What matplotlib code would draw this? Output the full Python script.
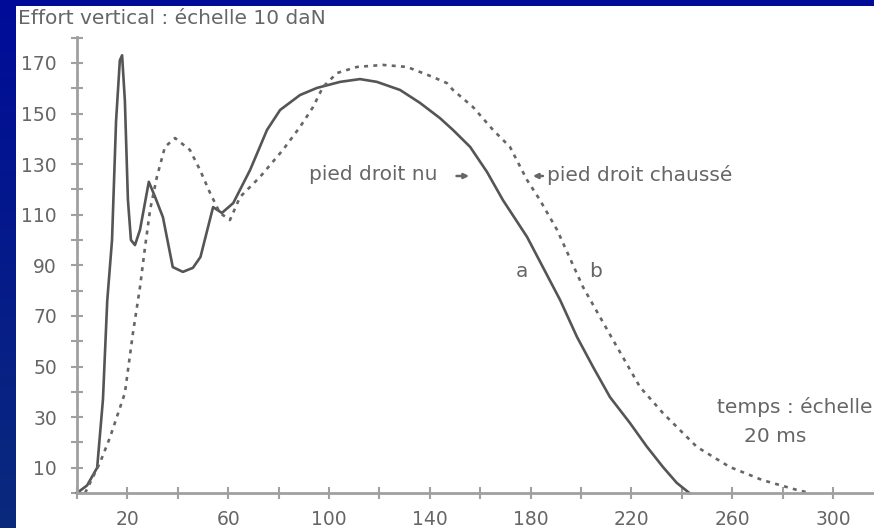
import numpy as np
import matplotlib
matplotlib.use("Agg")
import matplotlib.pyplot as plt
from matplotlib.ticker import MultipleLocator, FixedLocator
from matplotlib.colors import LinearSegmentedColormap

# Courbe a : pied droit nu (trait plein)
temps_a = [0, 4, 8, 10.3, 12, 13.9, 15.5, 17, 17.9, 19, 20.2, 21.4, 23, 25, 28.5, 31, 34.1, 38, 42, 46,
           49, 54, 57.5, 62, 68.7, 75.4, 80.6, 88.5, 95.2, 104.4, 112.3, 119, 128.2, 136.1, 144, 149.2,
           156, 162.7, 169, 178.6, 191.7, 198.4, 204.8, 211.5, 219.4, 226, 232.5, 238, 243]
effort_a = [0, 3, 10, 37, 76, 100, 147, 171, 173, 155, 116, 100, 98, 104, 123, 117, 109, 89.3, 87.4, 89,
            93.3, 113, 110.7, 114.6, 127.7, 143.5, 151.4, 157.3, 160.1, 162.5, 163.6, 162.5, 159.3, 154.2,
            148.2, 143.5, 136.8, 126.9, 115.8, 101.2, 76.3, 61.7, 49.8, 37.9, 27.7, 18.5, 10.3, 4, 0]

# Courbe b : pied droit chaussé (tirets)
temps_b = [3.2, 9.1, 13.1, 19, 22.2, 25, 27, 29, 31.7, 34.9, 38.9, 44.8, 48.8, 52.8, 56.7, 60.7, 64.7,
           72.6, 81.7, 88.5, 93.7, 97.6, 103.2, 111.1, 121.4, 131, 141.3, 146.8, 149.2, 157.1, 165.1,
           171.8, 178.6, 183.7, 190.5, 200.8, 212.7, 223.4, 232.5, 246, 259, 272, 285.7, 290.9]
effort_b = [0, 11.9, 22, 39.5, 63.2, 81.4, 97.2, 111.9, 124.9, 136.8, 140.3, 135.6, 127.7, 118.6, 110.7,
            107.9, 117, 124.9, 135.6, 144.7, 152.6, 160.5, 166, 168.4, 169.2, 168.4, 164.4, 162, 159.3,
            152.6, 143.5, 136.8, 123.7, 115.8, 104, 81.4, 60.5, 41.9, 31.6, 18.2, 10.3, 5.1, 1.2, 0]

y_ticks_labels = [10, 30, 50, 70, 90, 110, 130, 150, 170]
x_ticks_labels = [20, 60, 100, 140, 180, 220, 260, 300]

FONT = ["DejaVu Sans"]
TXT = "#666666"
FS = 14.5
FS_TICK = 13.5

W, H = 874, 528
fig = plt.figure(figsize=(W / 100, H / 100), dpi=100)

# fond bleu en dégradé
bg = fig.add_axes([0, 0, 1, 1], zorder=-10)
grad = np.linspace(0, 1, 256).reshape(-1, 1)
cmap = LinearSegmentedColormap.from_list("bg", ["#000c98", "#0a2a7c"])
bg.imshow(grad, aspect="auto", cmap=cmap, extent=[0, 1, 0, 1], origin="upper")
bg.set_axis_off()

# panneau blanc
panel = fig.add_axes([16 / W, 0, 1 - 16 / W, (H - 6) / H], zorder=-5)
panel.set_facecolor("white")
panel.set_xticks([]); panel.set_yticks([])
for s in panel.spines.values():
    s.set_visible(False)

x0, y0, ytop = 77, 493, 37
ax = fig.add_axes([x0 / W, (H - y0) / H, 1 - x0 / W, (y0 - ytop) / H])
ax.patch.set_alpha(0)
ax.set_xlim(0, (W - x0) / 2.52)
ax.set_ylim(0, (y0 - ytop) / 2.53)

ax.plot(temps_a, effort_a, color="#555555", lw=1.9, solid_joinstyle="round", clip_on=False)
ax.plot(temps_b, effort_b, color="#666666", lw=1.9, linestyle=(0, (1.5, 2.0)), clip_on=False)

for side in ["top", "right"]:
    ax.spines[side].set_visible(False)
for side in ["left", "bottom"]:
    ax.spines[side].set_color("#a0a0a0")
    ax.spines[side].set_linewidth(2)

ax.yaxis.set_major_locator(FixedLocator(y_ticks_labels))
ax.yaxis.set_minor_locator(MultipleLocator(10))
ax.xaxis.set_major_locator(FixedLocator(x_ticks_labels))
ax.xaxis.set_minor_locator(MultipleLocator(20))
ax.tick_params(axis="both", which="both", direction="inout", color="#a0a0a0", width=1.5,
               labelcolor=TXT, labelsize=FS_TICK)
ax.tick_params(axis="y", which="both", length=9, pad=10)
ax.tick_params(axis="x", which="both", length=8, pad=8)
for lab in ax.get_xticklabels() + ax.get_yticklabels():
    lab.set_family(FONT)

tk = dict(color=TXT, fontsize=FS, family=FONT)
fig.text(18 / W, 1 - 19 / H, "Effort vertical : échelle 10 daN", ha="left", va="center", **tk)

ax.text(117.5, 126, "pied droit nu", ha="center", va="center", **tk)
ax.annotate("", xy=(156.7, 125.3), xytext=(149.5, 125.3),
            arrowprops=dict(arrowstyle="-|>", color="#666666", lw=1.8, mutation_scale=7))
ax.text(186.5, 125.5, "pied droit chaussé", ha="left", va="center", **tk)
ax.annotate("", xy=(179.8, 125.3), xytext=(186.0, 125.3),
            arrowprops=dict(arrowstyle="-|>", color="#666666", lw=1.8, mutation_scale=7))
ax.text(176.6, 87.4, "a", ha="center", va="center", **tk)
ax.text(205.6, 87.4, "b", ha="center", va="center", **tk)
ax.text(254, 34, "temps : échelle", ha="left", va="center", clip_on=False, **tk)
ax.text(277, 22.5, "20 ms", ha="center", va="center", **tk)

fig.savefig("out.png", dpi=100)
